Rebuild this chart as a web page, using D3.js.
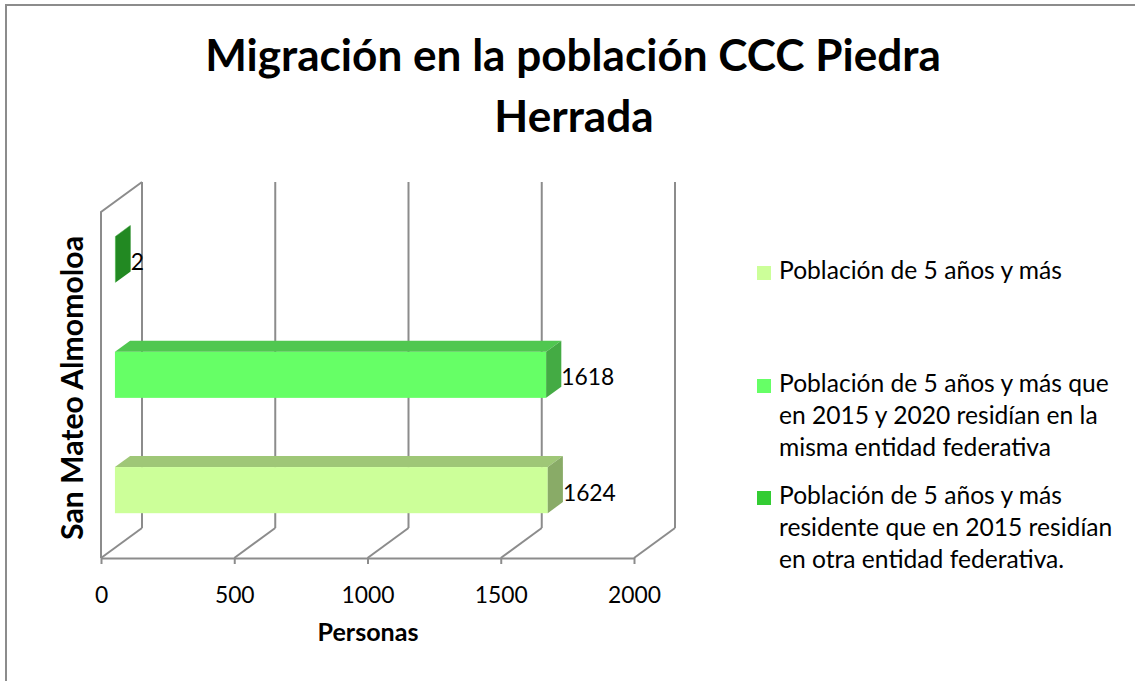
<!DOCTYPE html>
<html>
<head>
<meta charset="utf-8">
<script src="https://cdn.jsdelivr.net/npm/d3@7"></script>
<style>
  body { margin: 0; background: #fff; }
  text { font-family: Lato, "Open Sans", sans-serif; fill: #000; }
</style>
</head>
<body>
<div class="chart"></div>
<script>
var width = 1135, height = 681;

var category = 'San Mateo Almomoloa';
var seriesNames = [
  'Población de 5 años y más',
  'Población de 5 años y más que en 2015 y 2020 residían en la misma entidad federativa',
  'Población de 5 años y más residente que en 2015 residían en otra entidad federativa.'
];
var seriesValues = [1624, 1618, 2];
var xTicks = [0, 500, 1000, 1500, 2000];

var legendLines = [
  ['Población de 5 años y más'],
  ['Población de 5 años y más que', 'en 2015 y 2020 residían en la', 'misma entidad federativa'],
  ['Población de 5 años y más', 'residente que en 2015 residían', 'en otra entidad federativa.']
];
var colors = ['#ccff99', '#66ff66', '#33cc33'];

// front plane of the 3d box + depth vector
var plot = { left: 101, right: 634, top: 212, bottom: 558 };
var depth = { dx: 41, dy: -30 };
var barDepth = [0.34, 0.71];

var svg = d3.select('.chart').append('svg')
  .attr('width', width)
  .attr('height', height);

// scale font so the text is as wide as in the picture
function fit(sel, w) {
  var fs = parseFloat(sel.style('font-size'));
  var len = sel.node().getComputedTextLength();
  sel.style('font-size', (fs * w / len) + 'px');
  return fs * w / len;
}

// outer border
svg.append('rect')
  .attr('x', 6).attr('y', 5)
  .attr('width', 1200).attr('height', 800)
  .style('fill', 'none')
  .style('stroke', '#8c8c8c')
  .style('stroke-width', 2);

// title
var t1 = svg.append('text')
  .attr('x', 573).attr('y', 71)
  .style('text-anchor', 'middle')
  .style('font-size', '40px')
  .style('font-weight', 'bold')
  .text('Migración en la población CCC Piedra');
var tfs = fit(t1, 736);
svg.append('text')
  .attr('x', 574).attr('y', 132)
  .style('text-anchor', 'middle')
  .style('font-size', tfs + 'px')
  .style('font-weight', 'bold')
  .text('Herrada');

var x = d3.scaleLinear()
  .domain([0, 2000])
  .range([plot.left, plot.right]);

var y = d3.scaleBand()
  .domain([2, 1, 0])
  .range([plot.top, plot.bottom])
  .paddingInner(0.6)
  .paddingOuter(0.3);

function shade(c, k) {
  var r = d3.rgb(c);
  return d3.rgb(r.r * k, r.g * k, r.b * k).toString();
}

var grid = svg.append('g')
  .style('stroke', '#8c8c8c')
  .style('stroke-width', 2)
  .style('fill', 'none');

// back wall gridlines
grid.selectAll('.vg')
  .data(xTicks)
  .enter().append('line')
  .attr('x1', function (d) { return x(d) + depth.dx; })
  .attr('x2', function (d) { return x(d) + depth.dx; })
  .attr('y1', plot.top + depth.dy)
  .attr('y2', plot.bottom + depth.dy);

// floor gridlines
grid.selectAll('.fg')
  .data(xTicks)
  .enter().append('line')
  .attr('x1', function (d) { return x(d); })
  .attr('x2', function (d) { return x(d) + depth.dx; })
  .attr('y1', plot.bottom)
  .attr('y2', plot.bottom + depth.dy);

// left wall outline
grid.append('path')
  .attr('d', 'M' + plot.left + ',' + plot.bottom +
    'V' + plot.top +
    'L' + (plot.left + depth.dx) + ',' + (plot.top + depth.dy));

// x axis
var xAxis = d3.axisBottom(x)
  .tickValues(xTicks)
  .tickFormat(d3.format('d'))
  .tickSize(6)
  .tickSizeOuter(0);

var ax = svg.append('g')
  .attr('transform', 'translate(0,' + plot.bottom + ')')
  .call(xAxis);
ax.select('.domain').style('stroke', '#8c8c8c').style('stroke-width', 2);
ax.selectAll('.tick line').style('stroke', '#8c8c8c').style('stroke-width', 2);
ax.selectAll('.tick text')
  .style('font-family', 'Lato, sans-serif')
  .style('font-size', '20px')
  .attr('fill', '#000')
  .attr('y', 45)
  .attr('dy', 0);
var tickFs = fit(ax.selectAll('.tick text').filter(function (d) { return d === 2000; }), 53);
ax.selectAll('.tick text').style('font-size', tickFs + 'px');

var xl = svg.append('text')
  .attr('x', 368).attr('y', 641)
  .style('text-anchor', 'middle')
  .style('font-size', '18px')
  .style('font-weight', 'bold')
  .text('Personas');
fit(xl, 101);

var yl = svg.append('text')
  .attr('transform', 'translate(83,388)rotate(-90)')
  .style('text-anchor', 'middle')
  .style('font-size', '24px')
  .style('font-weight', 'bold')
  .text(category);
fit(yl, 304);

// 3d bars
var d0x = depth.dx * barDepth[0], d0y = depth.dy * barDepth[0];
var d1x = depth.dx * barDepth[1], d1y = depth.dy * barDepth[1];

var bars = svg.selectAll('.bar')
  .data(seriesValues)
  .enter().append('g')
  .attr('class', 'bar');

bars.each(function (v, i) {
  var g = d3.select(this);
  var xl = x(0) + d0x, xr = x(v) + d0x;
  var yt = y(i) + d0y, yb = y(i) + y.bandwidth() + d0y;
  var ox = d1x - d0x, oy = d1y - d0y;
  // front
  g.append('rect')
    .attr('x', xl).attr('y', yt)
    .attr('width', xr - xl).attr('height', yb - yt)
    .style('fill', colors[i]);
  // top
  g.append('path')
    .attr('d', 'M' + xl + ',' + yt + 'L' + (xl + ox) + ',' + (yt + oy) +
      'L' + (xr + ox) + ',' + (yt + oy) + 'L' + xr + ',' + yt + 'Z')
    .style('fill', shade(colors[i], 0.78));
  // side
  g.append('path')
    .attr('d', 'M' + xr + ',' + yt + 'L' + (xr + ox) + ',' + (yt + oy) +
      'L' + (xr + ox) + ',' + (yb + oy) + 'L' + xr + ',' + yb + 'Z')
    .style('fill', shade(colors[i], 0.67));
  // label
  g.append('text')
    .attr('x', xr + ox)
    .attr('y', (yt + yb) / 2 + oy / 2 + 16)
    .style('font-size', tickFs + 'px')
    .text(v);
});

// legend
var lg = svg.append('g');
var legendY = [279, 392, 504];
var probe = lg.append('text')
  .style('font-size', '20px')
  .text(legendLines[0][0]);
var lfs = fit(probe, 283);
probe.remove();

legendLines.forEach(function (lines, i) {
  lg.append('rect')
    .attr('x', 757).attr('y', legendY[i] - 13)
    .attr('width', 14).attr('height', 14)
    .style('fill', colors[i]);
  var t = lg.append('text')
    .attr('x', 779).attr('y', legendY[i])
    .style('font-size', lfs + 'px');
  lines.forEach(function (s, k) {
    t.append('tspan')
      .attr('x', 779)
      .attr('dy', k === 0 ? 0 : 32)
      .text(s);
  });
});
</script>
</body>
</html>
